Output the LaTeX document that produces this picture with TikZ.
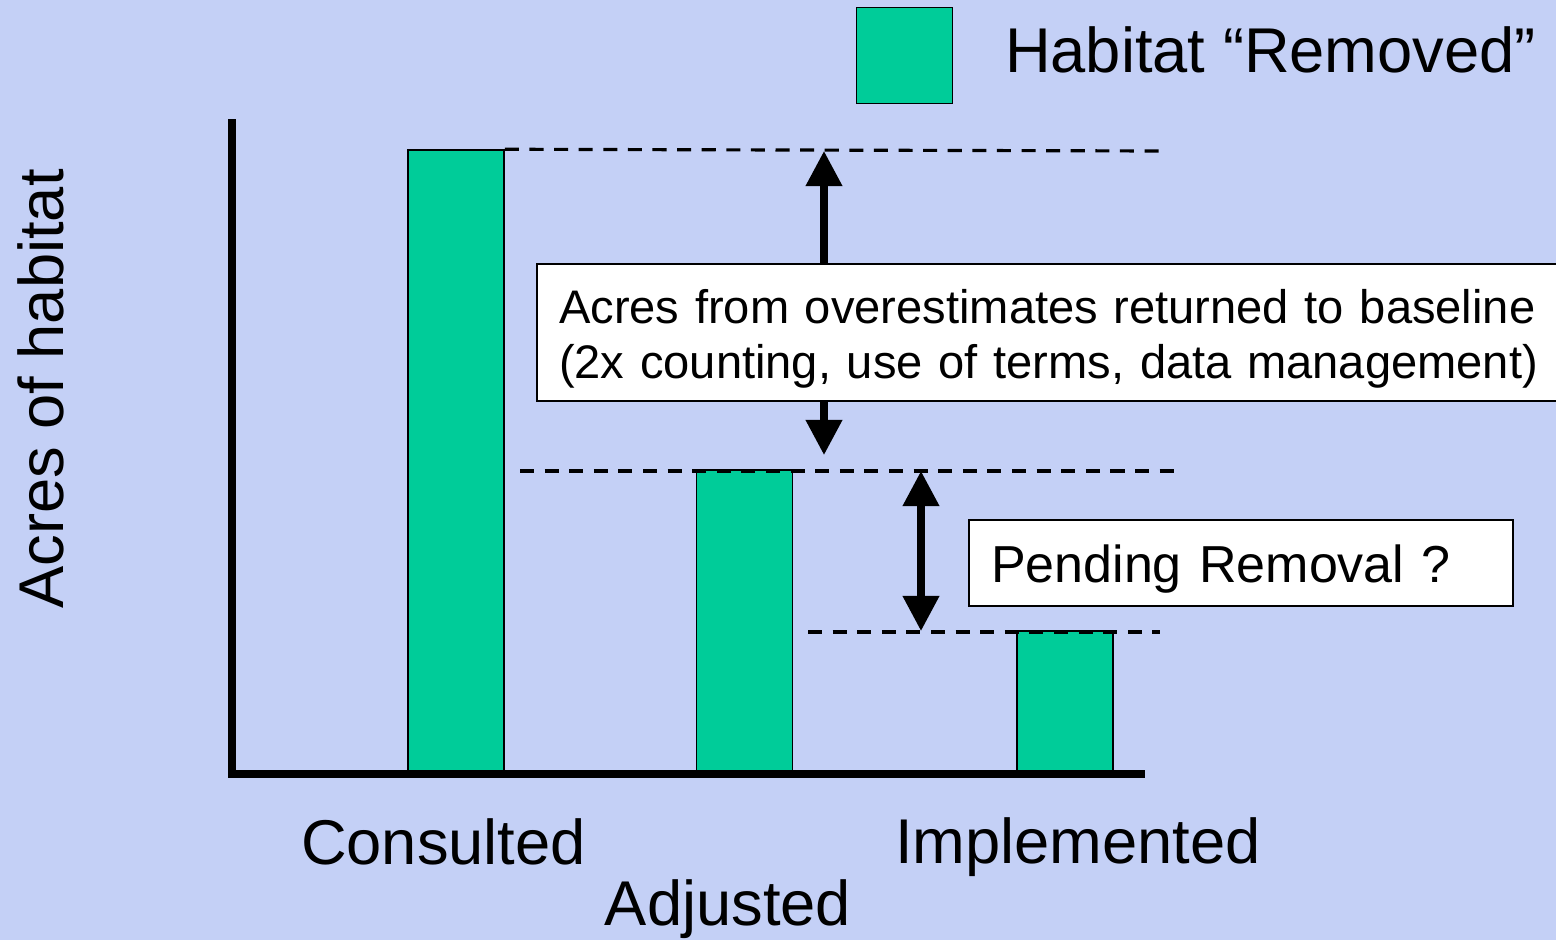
\documentclass[tikz,border=0pt]{standalone}
\usepackage{fontspec}
\setmainfont{Liberation Sans}
\usetikzlibrary{positioning,arrows.meta}

\definecolor{habgreen}{RGB}{0,204,153}
\definecolor{bgblue}{RGB}{196,208,246}

\begin{document}
\begin{tikzpicture}[
    x=0.1mm, y=-0.1mm,
    font=\fontsize{18}{21.6}\selectfont,
    % Node styles
    bar/.style={draw=black, line width=0.5pt, fill=habgreen, minimum width=9.6mm, inner sep=0pt, anchor=south},
    axlabel/.style={inner sep=0pt, anchor=base},
    notebox/.style={draw=black, line width=0.6pt, fill=white, align=left, inner xsep=2.2mm, inner ysep=0pt, anchor=north west},
    axis/.style={line width=2.5pt, line join=miter},
    level/.style={dash pattern=on 4pt off 3pt, line width=0.9pt},
    arrow/.style={-{Triangle[length=10pt,width=10pt]}, line width=2pt},
    twoarrow/.style={{Triangle[length=10pt,width=10pt]}-{Triangle[length=10pt,width=10pt]}, line width=2pt},
]

    % Background and page size
    \fill[bgblue] (0,0) rectangle (1556,940);
    \useasboundingbox (0,0) rectangle (1556,940);

    % Bars
    \node[bar, minimum height=62.3mm] (consulted) at (456,774) {};
    \node[bar, minimum height=30.3mm] (adjusted) at (744.5,774) {};
    \node[bar, minimum height=14.2mm] (implemented) at (1065,774) {};

    % Axes
    \coordinate (origin) at (232,774);
    \coordinate (ytop) at (232,119);
    \coordinate (xend) at (1145,774);
    \draw[axis] (ytop) -- (origin) -- (xend);

    % Levels
    \coordinate (lvl1) at (1160,151);
    \coordinate (lvl2s) at (520,471);
    \coordinate (lvl2) at (1177,471);
    \coordinate (lvl3s) at (808,632);
    \coordinate (lvl3) at (1160,632);
    \draw[level] (consulted.north east) -- (lvl1);
    \draw[level] (lvl2s) -- (lvl2);
    \draw[level] (lvl3s) -- (lvl3);

    % Notes
    \node[notebox, text height=16.8pt, text depth=22.2pt, text width=102mm, font=\fontsize{13.4}{15.9}\selectfont] (overest) at (536,263)
        {Acres from overestimates returned to baseline\\(2x counting, use of terms, data management)};
    \node[notebox, text height=17.9pt, text depth=6.6pt, text width=50mm, font=\fontsize{14.8}{17.8}\selectfont] (pending) at (968,519)
        {Pending Removal ?};

    % Arrows
    \coordinate (up1) at (824,151);
    \coordinate (down1) at (824,455);
    \coordinate (up2) at (921,471);
    \coordinate (down2) at (921,631);
    \draw[arrow] (overest.north -| up1) -- (up1);
    \draw[arrow] (overest.south -| down1) -- (down1);
    \draw[twoarrow] (up2) -- (down2);

    % Legend
    \node[bar, anchor=center, minimum width=9.6mm, minimum height=9.6mm] (legsq) at (904.5,55.5) {};
    \node[inner sep=0pt, right=5.1mm of legsq, yshift=0.6mm] (legtext) {Habitat “Removed”};

    % Labels
    \node[axlabel, rotate=90] (ylab) at (64,389) {Acres of habitat};
    \node[axlabel] (lcons) at (443.5,864) {Consulted};
    \node[axlabel] (ladj) at (728,925) {Adjusted};
    \node[axlabel] (limpl) at (1078,863) {Implemented};

\end{tikzpicture}
\end{document}
